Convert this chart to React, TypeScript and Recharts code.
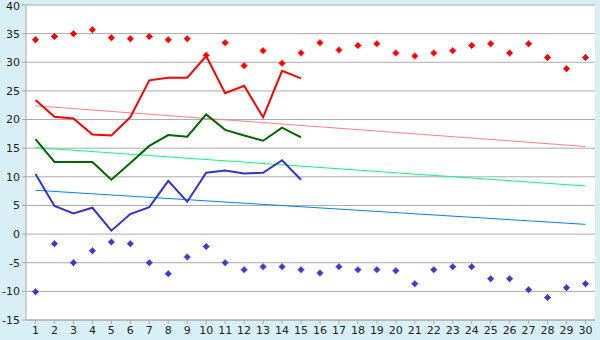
import {
  ComposedChart,
  Line,
  XAxis,
  YAxis,
  CartesianGrid,
  ReferenceLine,
} from 'recharts';

const days = Array.from({ length: 30 }, (_, i) => i + 1);

const maxTemps = [
  34.0, 34.6, 35.05, 35.75, 34.35, 34.2, 34.6, 34.0, 34.2, 31.3,
  33.5, 29.5, 32.1, 29.9, 31.7, 33.5, 32.25, 33.0, 33.3, 31.7,
  31.2, 31.7, 32.1, 33.0, 33.3, 31.7, 33.3, 30.9, 28.95, 30.9,
];

const minTemps = [
  -10.0, -1.6, -4.9, -2.8, -1.3, -1.6, -4.9, -6.85, -3.9, -2.1,
  -4.9, -6.15, -5.6, -5.6, -6.15, -6.7, -5.6, -6.15, -6.15, -6.3,
  -8.6, -6.15, -5.6, -5.6, -7.7, -7.7, -9.65, -11.0, -9.3, -8.6,
];

const highLine = [23.4, 20.5, 20.2, 17.4, 17.2, 20.4, 26.85, 27.3, 27.3, 31.1, 24.6, 25.9, 20.4, 28.5, 27.2];
const meanLine = [16.6, 12.6, 12.6, 12.6, 9.5, 12.4, 15.4, 17.3, 17.0, 20.9, 18.2, 17.2, 16.3, 18.6, 16.9];
const lowLine = [10.5, 4.9, 3.6, 4.6, 0.6, 3.5, 4.7, 9.3, 5.65, 10.7, 11.1, 10.6, 10.7, 12.9, 9.5];

// trend endpoints at day 1 and day 30
const highTrend = [22.4, 15.3];
const meanTrend = [15.1, 8.4];
const lowTrend = [7.65, 1.7];

const yTicks = [-15, -10, -5, 0, 5, 10, 15, 20, 25, 30, 35, 40];

const data = days.map((d, i) => ({
  day: d,
  max: maxTemps[i],
  min: minTemps[i],
  high: i < highLine.length ? highLine[i] : null,
  mean: i < meanLine.length ? meanLine[i] : null,
  low: i < lowLine.length ? lowLine[i] : null,
}));

const PlusDot = (color: string) => (props: any) => {
  const { cx, cy, key } = props;
  if (cx == null || cy == null) return null;
  return (
    <path
      key={key}
      d={`M${cx - 0.5},${cy - 3}h1v1h1v1h1v1h1v1h-1v1h-1v1h-1v1h-1v-1h-1v-1h-1v-1h-1v-1h1v-1h1v-1h1z`}
      fill={color}
    />
  );
};

const tickStyle = { fill: '#222', fontSize: 11, fontFamily: 'DejaVu Sans' };

export default function App() {
  return (
    <div style={{ position: 'absolute', left: 0, top: 0, width: 600, height: 340, background: '#d9eff6' }}>
      <ComposedChart width={600} height={340} data={data} margin={{ top: 5, right: 5, bottom: 0, left: 0 }}>
        <CartesianGrid vertical={false} stroke="#aaaaaa" fill="#ffffff" />
        <XAxis
          dataKey="day"
          interval={0}
          height={20}
          padding={{ left: 9.5, right: 9.5 }}
          stroke="#aaaaaa"
          tickSize={4}
          tick={tickStyle}
        />
        <YAxis
          domain={[-15, 40]}
          ticks={yTicks}
          width={26}
          stroke="#aaaaaa"
          tickSize={4}
          tick={tickStyle}
        />
        <YAxis
          yAxisId="r"
          orientation="right"
          domain={[-15, 40]}
          width={0}
          stroke="#aaaaaa"
          tick={false}
          tickLine={false}
        />
        <ReferenceLine segment={[{ x: 1, y: highTrend[0] }, { x: 30, y: highTrend[1] }]} stroke="#ff8080" strokeWidth={1} />
        <ReferenceLine segment={[{ x: 1, y: meanTrend[0] }, { x: 30, y: meanTrend[1] }]} stroke="#00ff80" strokeWidth={1} />
        <ReferenceLine segment={[{ x: 1, y: lowTrend[0] }, { x: 30, y: lowTrend[1] }]} stroke="#0080ff" strokeWidth={1} />
        <Line type="linear" dataKey="high" stroke="#ff0000" strokeWidth={2} dot={false} isAnimationActive={false} />
        <Line type="linear" dataKey="mean" stroke="#006600" strokeWidth={2} dot={false} isAnimationActive={false} />
        <Line type="linear" dataKey="low" stroke="#3333cc" strokeWidth={2} dot={false} isAnimationActive={false} />
        <Line type="linear" dataKey="max" stroke="none" dot={PlusDot('#ff0000')} activeDot={false} isAnimationActive={false} />
        <Line type="linear" dataKey="min" stroke="none" dot={PlusDot('#3a3acc')} activeDot={false} isAnimationActive={false} />
      </ComposedChart>
    </div>
  );
}
